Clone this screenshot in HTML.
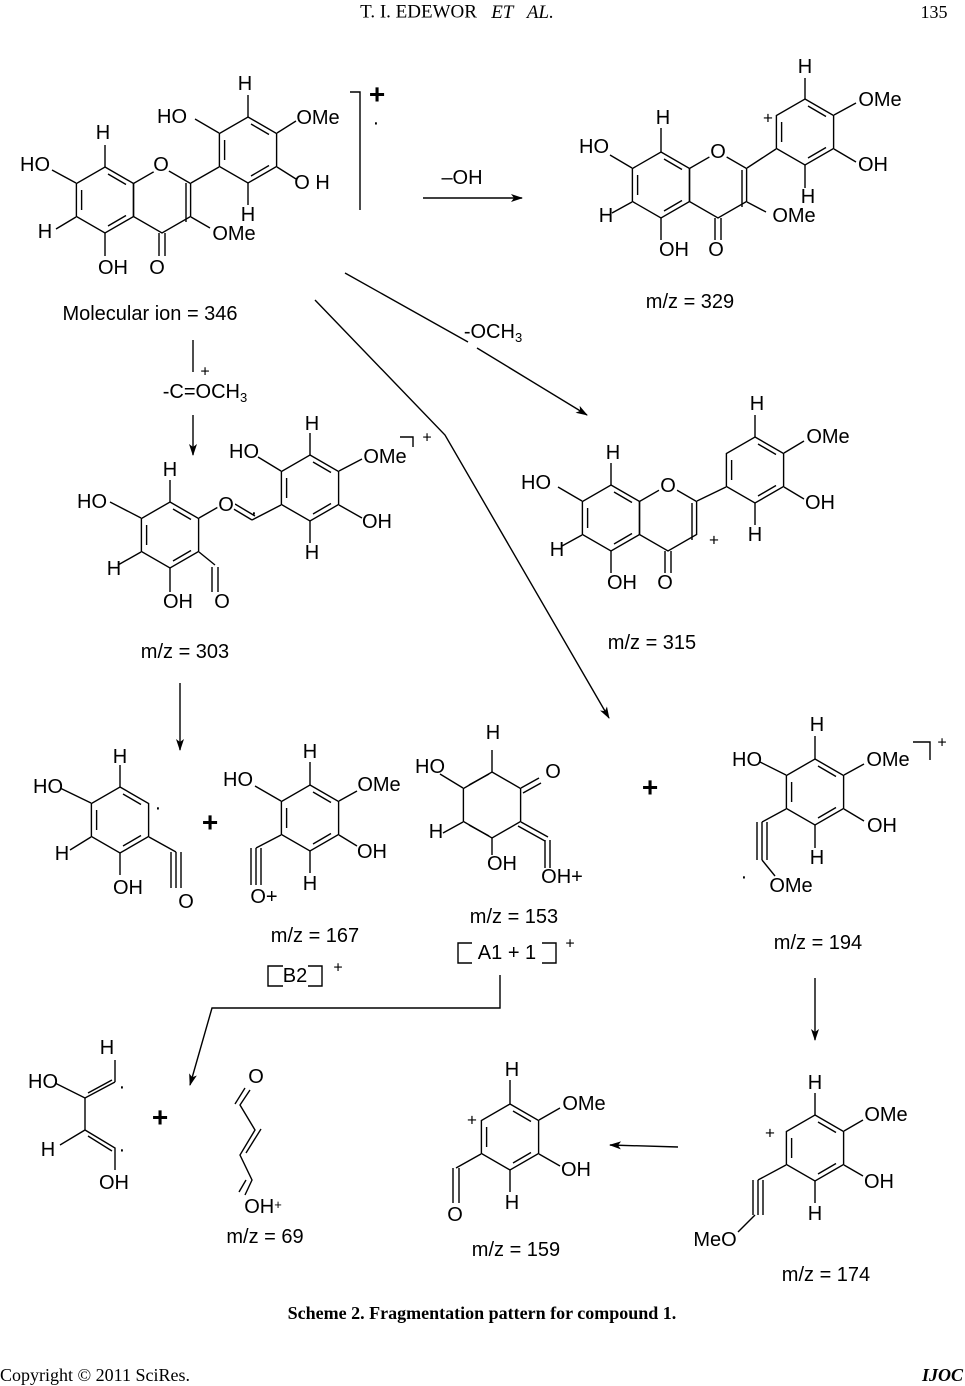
<!DOCTYPE html>
<html><head><meta charset="utf-8"><style>
html,body{margin:0;padding:0;background:#fff;}
svg{display:block;}
text{font-family:"Liberation Sans",Arial,sans-serif;fill:#000;}
.s{font-family:"Liberation Serif",serif;}
</style></head><body>
<svg width="965" height="1386" viewBox="0 0 965 1386" xmlns="http://www.w3.org/2000/svg" font-size="20">
<defs>
<g id="hx"><polygon points="0,-33 28.6,-16.5 28.6,16.5 0,33 -28.6,16.5 -28.6,-16.5" fill="none" stroke="#000" stroke-width="1.4"/></g>
<g id="ar"><use href="#hx"/><g stroke="#000" stroke-width="1.4"><line x1="3" y1="-26" x2="21" y2="-15.5"/><line x1="21" y1="15.5" x2="3" y2="26"/><line x1="-23.4" y1="10" x2="-23.4" y2="-10"/></g></g>
<marker id="ah" markerWidth="12" markerHeight="8" refX="11" refY="4" orient="auto" markerUnits="userSpaceOnUse"><path d="M0,0 L12,4 L0,8 L3,4 Z" fill="#000"/></marker>
</defs>
<g text-anchor="middle" dominant-baseline="central">
<text x="457" y="12" class="s" font-size="19">T. I. EDEWOR &#160; <tspan font-style="italic">ET &#160; AL.</tspan></text>
<text x="934" y="12" class="s" font-size="18">135</text>

<g stroke="#000" stroke-width="1.4" fill="none">
<use href="#ar" x="105" y="200"/><use href="#hx" x="162" y="200"/><use href="#ar" x="248" y="150"/>
<line x1="186" y1="222" x2="186" y2="183"/>
<line x1="105" y1="167" x2="105" y2="145"/><line x1="76" y1="183" x2="52" y2="170"/><line x1="76" y1="217" x2="56" y2="229"/><line x1="105" y1="233" x2="105" y2="256"/>
<line x1="159" y1="233" x2="159" y2="256"/><line x1="165" y1="233" x2="165" y2="256"/><line x1="191" y1="217" x2="210" y2="228"/>
<line x1="191" y1="183" x2="219" y2="167"/>
<line x1="219" y1="133" x2="195" y2="119"/><line x1="248" y1="117" x2="248" y2="95"/><line x1="277" y1="133" x2="296" y2="121"/><line x1="277" y1="167" x2="296" y2="179"/><line x1="248" y1="183" x2="248" y2="205"/>
<polyline points="350,92 360,92 360,210"/>
<use href="#ar" x="661" y="185"/><use href="#hx" x="718" y="185"/><use href="#ar" x="805" y="132"/>
<line x1="742" y1="207" x2="742" y2="170"/>
<line x1="661" y1="152" x2="661" y2="128"/><line x1="632" y1="168" x2="610" y2="155"/><line x1="632" y1="202" x2="612" y2="213"/><line x1="661" y1="218" x2="661" y2="240"/>
<line x1="715" y1="218" x2="715" y2="240"/><line x1="721" y1="218" x2="721" y2="240"/><line x1="747" y1="202" x2="766" y2="212"/>
<line x1="747" y1="168" x2="776" y2="149"/>
<line x1="805" y1="99" x2="805" y2="78"/><line x1="834" y1="115" x2="856" y2="103"/><line x1="834" y1="149" x2="856" y2="162"/><line x1="805" y1="165" x2="805" y2="188"/>
<use href="#ar" x="611" y="518"/><use href="#hx" x="668" y="518"/><use href="#ar" x="755" y="470"/>
<line x1="692" y1="540" x2="692" y2="503"/>
<line x1="611" y1="485" x2="611" y2="463"/><line x1="582" y1="501" x2="558" y2="487"/><line x1="582" y1="535" x2="562" y2="546"/><line x1="611" y1="551" x2="611" y2="573"/>
<line x1="665" y1="551" x2="665" y2="573"/><line x1="671" y1="551" x2="671" y2="573"/>
<line x1="697" y1="501" x2="726" y2="487"/>
<line x1="755" y1="437" x2="755" y2="415"/><line x1="784" y1="453" x2="804" y2="441"/><line x1="784" y1="487" x2="804" y2="499"/><line x1="755" y1="503" x2="755" y2="525"/>
<use href="#ar" x="170" y="535"/><use href="#ar" x="310" y="488"/>
<line x1="170" y1="502" x2="170" y2="480"/><line x1="141" y1="518" x2="110" y2="502"/><line x1="141" y1="552" x2="118" y2="565"/><line x1="170" y1="568" x2="170" y2="592"/>
<line x1="199" y1="518" x2="220" y2="506"/><line x1="232" y1="508" x2="252" y2="520"/><line x1="235" y1="504" x2="255" y2="516"/><line x1="252" y1="520" x2="281" y2="505"/>
<line x1="199" y1="552" x2="215" y2="565"/><line x1="212" y1="567" x2="212" y2="592"/><line x1="218" y1="567" x2="218" y2="592"/>
<line x1="281" y1="471" x2="258" y2="457"/><line x1="310" y1="455" x2="310" y2="433"/><line x1="339" y1="471" x2="362" y2="459"/><line x1="339" y1="505" x2="362" y2="518"/><line x1="310" y1="521" x2="310" y2="543"/>
<polyline points="400,437 413,437 413,447"/>
<use href="#ar" x="120" y="820"/>
<line x1="120" y1="787" x2="120" y2="765"/><line x1="91" y1="803" x2="60" y2="788"/><line x1="91" y1="837" x2="70" y2="850"/><line x1="120" y1="853" x2="120" y2="875"/>
<line x1="149" y1="837" x2="176" y2="852"/><line x1="176" y1="852" x2="176" y2="888"/><line x1="181" y1="852" x2="181" y2="888"/><line x1="171" y1="852" x2="171" y2="888"/>
<use href="#ar" x="310" y="818"/>
<line x1="281" y1="801" x2="255" y2="786"/><line x1="310" y1="785" x2="310" y2="762"/><line x1="339" y1="801" x2="357" y2="791"/><line x1="339" y1="835" x2="357" y2="846"/><line x1="310" y1="851" x2="310" y2="873"/>
<line x1="281" y1="835" x2="256" y2="848"/><line x1="251" y1="848" x2="251" y2="885"/><line x1="256" y1="848" x2="256" y2="885"/><line x1="261" y1="848" x2="261" y2="885"/>
<use href="#hx" x="492" y="805"/>
<line x1="469" y1="785" x2="489" y2="774"/><line x1="469" y1="825" x2="489" y2="836"/>
<line x1="492" y1="772" x2="492" y2="750"/><line x1="463" y1="788" x2="440" y2="774"/><line x1="463" y1="822" x2="443" y2="833"/><line x1="492" y1="838" x2="492" y2="855"/>
<line x1="521" y1="788" x2="539" y2="778"/><line x1="523" y1="793" x2="541" y2="783"/>
<line x1="521" y1="822" x2="548" y2="837"/><line x1="518" y1="826" x2="545" y2="841"/><line x1="545" y1="840" x2="545" y2="868"/><line x1="550" y1="840" x2="550" y2="868"/>
<use href="#ar" x="815" y="792"/>
<line x1="786" y1="775" x2="760" y2="762"/><line x1="815" y1="759" x2="815" y2="736"/><line x1="844" y1="775" x2="864" y2="764"/><line x1="844" y1="809" x2="864" y2="821"/><line x1="815" y1="825" x2="815" y2="848"/>
<line x1="786" y1="809" x2="762" y2="822"/><line x1="757" y1="822" x2="757" y2="860"/><line x1="762" y1="822" x2="762" y2="860"/><line x1="767" y1="822" x2="767" y2="860"/><line x1="762" y1="860" x2="775" y2="876"/>
<polyline points="913,742 930,742 930,760"/>
<polyline points="55,1083 85,1098 115,1082"/><line x1="88" y1="1093" x2="112" y2="1080"/><line x1="115" y1="1082" x2="115" y2="1060"/>
<polyline points="60,1145 85,1130 115,1148 115,1170"/><line x1="88" y1="1136" x2="112" y2="1151"/><line x1="85" y1="1098" x2="85" y2="1130"/>
<polyline points="250,1090 240,1105 255,1130 240,1155 252,1180 245,1195"/>
<line x1="245" y1="1088" x2="235" y2="1104"/><line x1="261" y1="1129" x2="246" y2="1153"/><line x1="246" y1="1180" x2="239" y2="1192"/>
<use href="#ar" x="510" y="1137"/>
<line x1="510" y1="1104" x2="510" y2="1080"/><line x1="539" y1="1120" x2="560" y2="1108"/><line x1="539" y1="1154" x2="560" y2="1166"/><line x1="510" y1="1170" x2="510" y2="1192"/>
<line x1="481" y1="1154" x2="456" y2="1168"/><line x1="453" y1="1168" x2="453" y2="1203"/><line x1="459" y1="1168" x2="459" y2="1203"/>
<use href="#ar" x="815" y="1148"/>
<line x1="815" y1="1115" x2="815" y2="1093"/><line x1="844" y1="1131" x2="863" y2="1120"/><line x1="844" y1="1165" x2="863" y2="1176"/><line x1="815" y1="1181" x2="815" y2="1203"/>
<line x1="786" y1="1165" x2="758" y2="1180"/><line x1="753" y1="1180" x2="753" y2="1215"/><line x1="758" y1="1180" x2="758" y2="1215"/><line x1="763" y1="1180" x2="763" y2="1215"/><line x1="755" y1="1215" x2="738" y2="1232"/>
<line x1="423" y1="198" x2="522" y2="198" marker-end="url(#ah)"/>
<line x1="345" y1="273" x2="468" y2="342"/><line x1="477" y1="348" x2="587" y2="415" marker-end="url(#ah)"/>
<polyline points="315,300 445,435 609,718" marker-end="url(#ah)"/>
<line x1="193" y1="340" x2="193" y2="372"/>
<line x1="193" y1="415" x2="193" y2="455" marker-end="url(#ah)"/>
<line x1="180" y1="683" x2="180" y2="750" marker-end="url(#ah)"/>
<line x1="815" y1="978" x2="815" y2="1040" marker-end="url(#ah)"/>
<polyline points="500,975 500,1008 212,1008 190,1085" marker-end="url(#ah)"/>
<line x1="678" y1="1147" x2="610" y2="1145" marker-end="url(#ah)"/>
<polyline points="283,966 268,966 268,986 283,986"/><polyline points="308,966 322,966 322,986 308,986"/>
<polyline points="472,943 458,943 458,963 472,963"/><polyline points="542,943 556,943 556,963 542,963"/>
</g>
<g fill="#fff">
<circle cx="161" cy="165" r="10"/><circle cx="718" cy="152" r="10"/><circle cx="668" cy="486" r="10"/><circle cx="226" cy="505" r="9"/>
</g>

<text x="35" y="165">HO</text><text x="103" y="133">H</text><text x="161" y="165">O</text>
<text x="45" y="232">H</text><text x="113" y="268">OH</text><text x="157" y="268">O</text><text x="234" y="234">OMe</text>
<text x="172" y="117">HO</text><text x="245" y="84">H</text><text x="318" y="118">OMe</text><text x="312" y="183">O H</text><text x="248" y="215">H</text>
<text x="377" y="94" font-size="28" font-weight="bold">+</text><text x="376" y="123">·</text>
<text x="150" y="314">Molecular ion = 346</text>
<text x="594" y="147">HO</text><text x="663" y="118">H</text><text x="718" y="152">O</text><text x="606" y="216">H</text>
<text x="674" y="250">OH</text><text x="716" y="250">O</text><text x="794" y="216">OMe</text>
<text x="805" y="67">H</text><text x="880" y="100">OMe</text><text x="873" y="165">OH</text><text x="808" y="197">H</text><text x="768" y="118" font-size="17">+</text>
<text x="690" y="302">m/z = 329</text>
<text x="462" y="178">–OH</text>
<text x="493" y="332">-OCH<tspan font-size="13" dy="5">3</tspan></text>
<text x="536" y="483">HO</text><text x="613" y="453">H</text><text x="668" y="486">O</text><text x="557" y="550">H</text>
<text x="622" y="583">OH</text><text x="665" y="583">O</text><text x="714" y="540" font-size="17">+</text>
<text x="828" y="437">OMe</text><text x="757" y="404">H</text><text x="820" y="503">OH</text><text x="755" y="535">H</text>
<text x="652" y="643">m/z = 315</text>
<text x="205" y="372" font-size="16">+</text>
<text x="205" y="392">-C=OCH<tspan font-size="13" dy="5">3</tspan></text>
<text x="92" y="502">HO</text><text x="170" y="470">H</text><text x="226" y="505">O</text><text x="254" y="513">·</text>
<text x="114" y="569">H</text><text x="178" y="602">OH</text><text x="222" y="602">O</text>
<text x="244" y="452">HO</text><text x="312" y="424">H</text><text x="385" y="457">OMe</text><text x="377" y="522">OH</text><text x="312" y="553">H</text>
<text x="427" y="438" font-size="16">+</text>
<text x="185" y="652">m/z = 303</text>
<text x="48" y="787">HO</text><text x="120" y="757">H</text><text x="62" y="854">H</text><text x="128" y="888">OH</text><text x="186" y="902">O</text><text x="158" y="808">·</text>
<text x="210" y="822" font-size="28" font-weight="bold">+</text>
<text x="238" y="780">HO</text><text x="310" y="752">H</text><text x="379" y="785">OMe</text><text x="372" y="852">OH</text><text x="310" y="884">H</text><text x="264" y="897">O+</text>
<text x="315" y="936">m/z = 167</text><text x="295" y="976">B2</text><text x="338" y="968" font-size="16">+</text>
<text x="493" y="733">H</text><text x="430" y="767">HO</text><text x="553" y="772">O</text><text x="436" y="832">H</text><text x="502" y="864">OH</text><text x="562" y="877">OH+</text>
<text x="514" y="917">m/z = 153</text><text x="507" y="953">A1 + 1</text><text x="570" y="944" font-size="16">+</text>
<text x="650" y="787" font-size="28" font-weight="bold">+</text>
<text x="747" y="760">HO</text><text x="817" y="725">H</text><text x="888" y="760">OMe</text><text x="882" y="826">OH</text><text x="817" y="858">H</text><text x="791" y="886">OMe</text><text x="744" y="877">·</text>
<text x="942" y="743" font-size="16">+</text>
<text x="818" y="943">m/z = 194</text>
<text x="43" y="1082">HO</text><text x="107" y="1048">H</text><text x="122" y="1087">·</text><text x="48" y="1150">H</text><text x="122" y="1150">·</text><text x="114" y="1183">OH</text>
<text x="160" y="1117" font-size="28" font-weight="bold">+</text>
<text x="256" y="1077">O</text><text x="263" y="1207">OH<tspan font-size="13" dy="-3">+</tspan></text>
<text x="265" y="1237">m/z = 69</text>
<text x="512" y="1070">H</text><text x="584" y="1104">OMe</text><text x="576" y="1170">OH</text><text x="512" y="1203">H</text><text x="472" y="1120" font-size="17">+</text><text x="455" y="1215">O</text>
<text x="516" y="1250">m/z = 159</text>
<text x="815" y="1083">H</text><text x="886" y="1115">OMe</text><text x="879" y="1182">OH</text><text x="815" y="1214">H</text><text x="770" y="1133" font-size="17">+</text><text x="715" y="1240">MeO</text>
<text x="826" y="1275">m/z = 174</text>
<text x="482" y="1313" class="s" font-size="18" font-weight="bold">Scheme 2. Fragmentation pattern for compound 1.</text>
</g>
<text x="0" y="1381" class="s" font-size="18">Copyright © 2011 SciRes.</text>
<text x="963" y="1381" class="s" font-size="18" font-weight="bold" font-style="italic" text-anchor="end">IJOC</text>
</svg>
</body></html>
